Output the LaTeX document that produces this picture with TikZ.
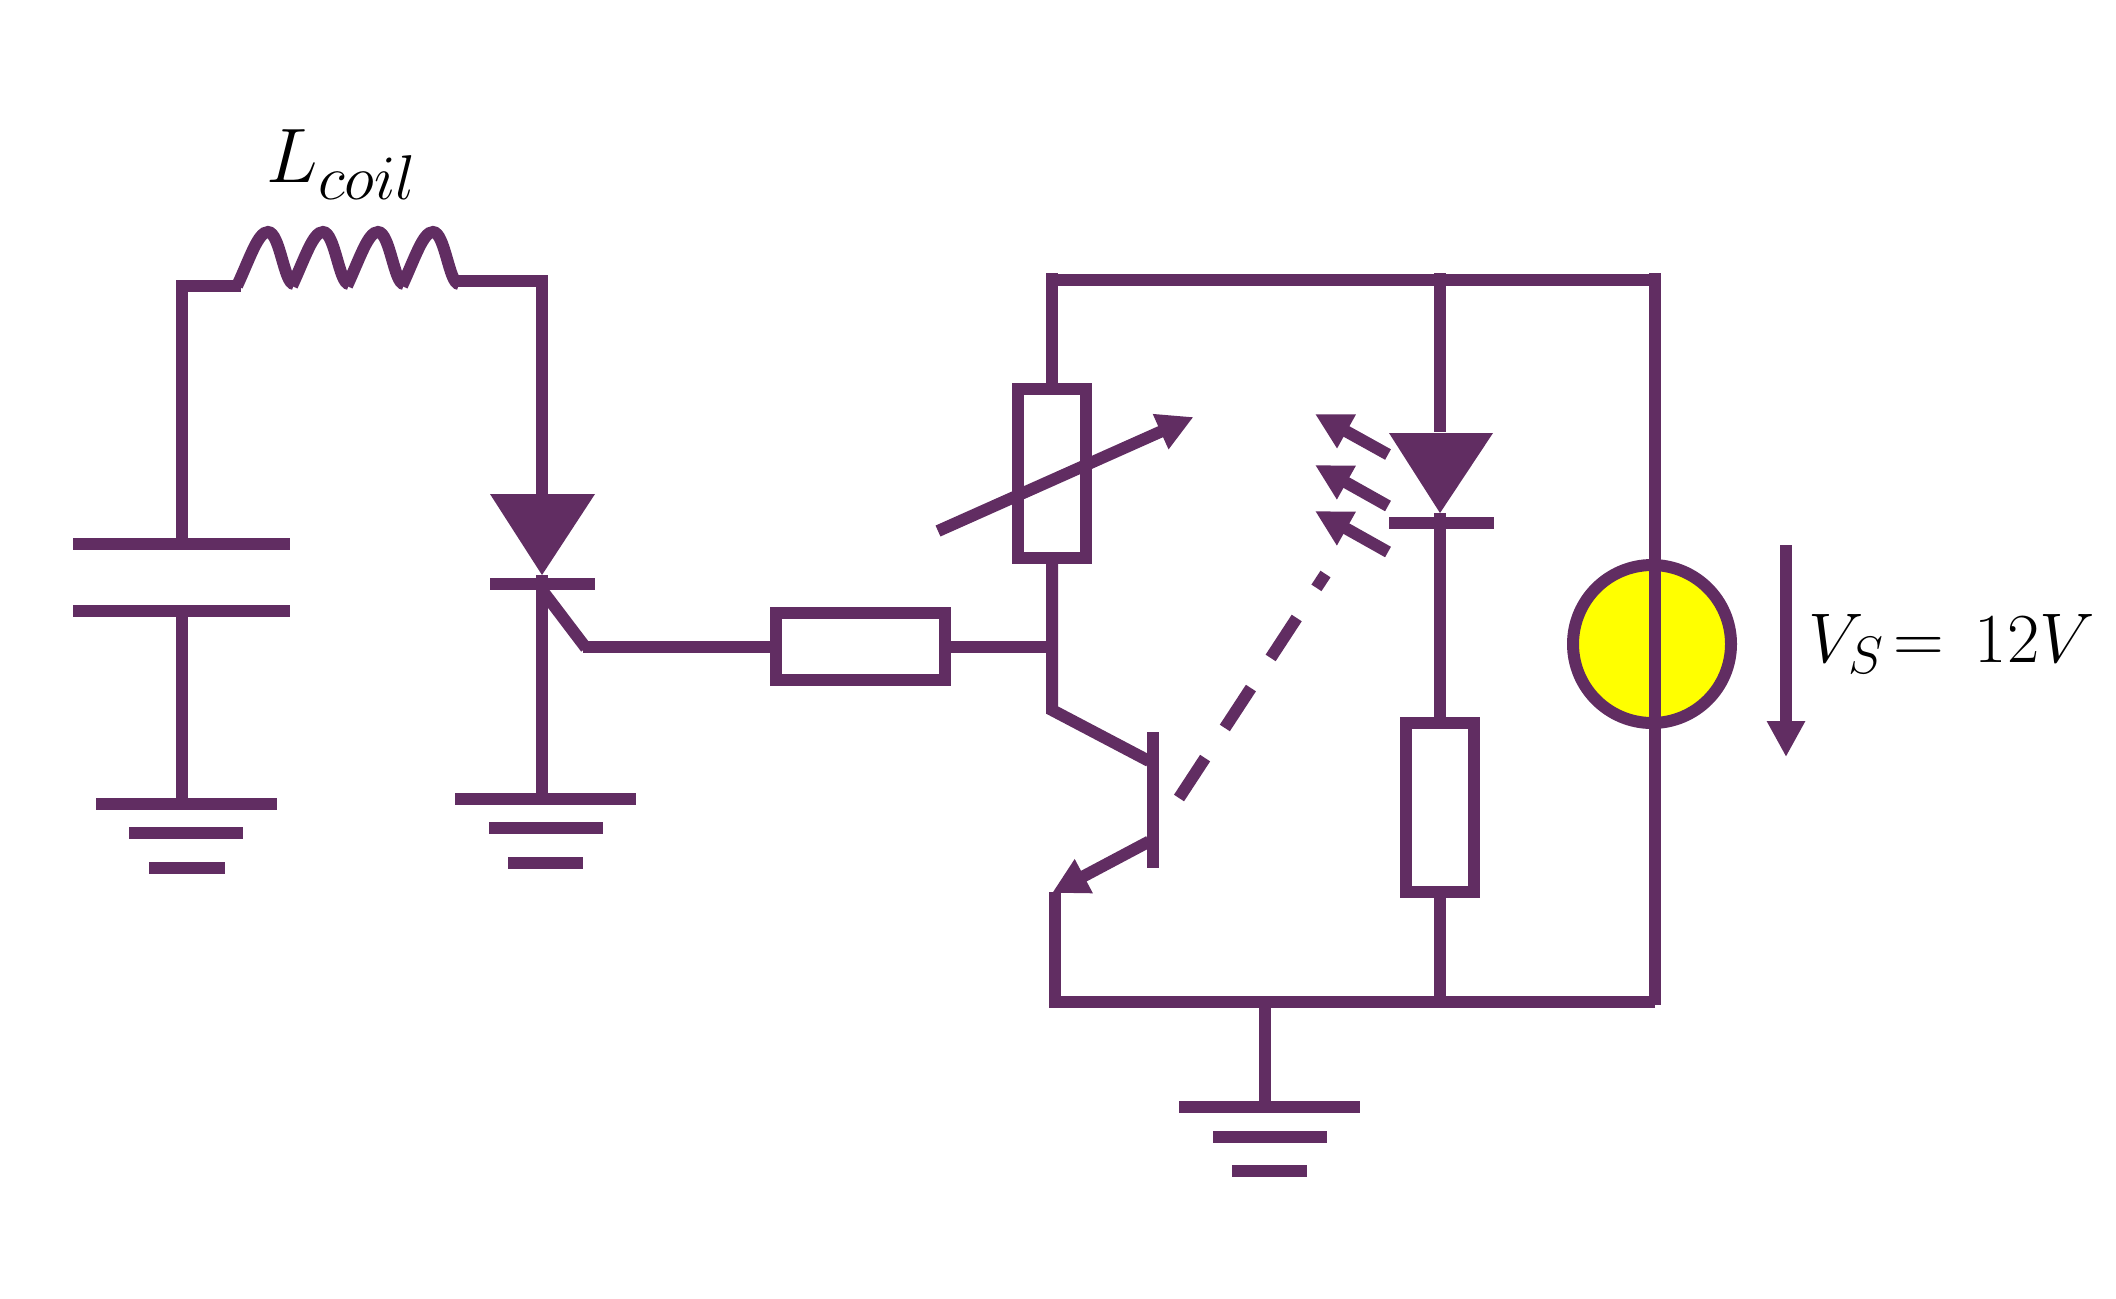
\RequirePackage{fix-cm}
\documentclass[tikz,border=0pt]{standalone}
\usepackage{amsmath}
\usetikzlibrary{arrows.meta}
\definecolor{wirecol}{HTML}{612D62}
\definecolor{lampcol}{HTML}{FFFF00}
\DeclareMathSizes{22}{22}{18}{14}
\DeclareMathSizes{20}{20}{15}{12}
\tikzset{
  wire/.style={draw=wirecol, line width=0.12cm},
  box/.style={wire, rectangle, inner sep=0pt, outer sep=0pt},
  tiparrow/.style={wire, -{Triangle[length=0.36cm, width=0.36cm]}}
}
\begin{document}
\begin{tikzpicture}
        \useasboundingbox (0,0) rectangle (21.16,-12.98);
        % named points
        \coordinate (capTop) at (1.82,-2.80);
        \coordinate (capCorner) at (1.82,-2.86);
        \coordinate (coilIn) at (2.41,-2.86);
        \coordinate (plateAl) at (0.73,-5.44);
        \coordinate (plateAr) at (2.90,-5.44);
        \coordinate (capMid) at (1.82,-5.44);
        \coordinate (plateBl) at (0.73,-6.11);
        \coordinate (plateBr) at (2.90,-6.11);
        \coordinate (capLow) at (1.82,-6.11);
        \coordinate (gndAtop) at (1.82,-8.04);
        \coordinate (gndAl) at (0.96,-8.04);
        \coordinate (gndAr) at (2.77,-8.04);
        \coordinate (gndBl) at (1.29,-8.33);
        \coordinate (gndBr) at (2.43,-8.33);
        \coordinate (gndCl) at (1.49,-8.68);
        \coordinate (gndCr) at (2.245,-8.68);
        \coordinate (coilOut) at (4.52,-2.81);
        \coordinate (scrCorner) at (5.42,-2.81);
        \coordinate (scrTop) at (5.42,-2.75);
        \coordinate (scrAnode) at (5.42,-4.94);
        \coordinate (scrL) at (4.90,-4.94);
        \coordinate (scrR) at (5.95,-4.94);
        \coordinate (scrTip) at (5.42,-5.75);
        \coordinate (scrBarL) at (4.90,-5.84);
        \coordinate (scrBarR) at (5.95,-5.84);
        \coordinate (scrGate) at (5.42,-5.90);
        \coordinate (gateElbow) at (5.86,-6.48);
        \coordinate (gateWire) at (5.83,-6.465);
        \coordinate (gndDtop) at (5.42,-7.99);
        \coordinate (gndDl) at (4.55,-7.99);
        \coordinate (gndDr) at (6.36,-7.99);
        \coordinate (gndEl) at (4.89,-8.28);
        \coordinate (gndEr) at (6.03,-8.28);
        \coordinate (gndFl) at (5.08,-8.63);
        \coordinate (gndFr) at (5.83,-8.63);
        \coordinate (railTL) at (10.52,-2.80);
        \coordinate (railTLup) at (10.52,-2.73);
        \coordinate (railTM) at (14.40,-2.73);
        \coordinate (railTR) at (16.55,-2.80);
        \coordinate (railRtop) at (16.55,-2.73);
        \coordinate (railRbot) at (16.55,-10.05);
        \coordinate (railBR) at (16.55,-10.02);
        \coordinate (railBL) at (10.55,-10.02);
        \coordinate (railBLup) at (10.55,-8.92);
        \coordinate (railBLdn) at (10.55,-10.08);
        \coordinate (railBM) at (14.40,-10.02);
        \coordinate (railBG) at (12.65,-10.02);
        \coordinate (baseJoin) at (10.52,-6.465);
        \coordinate (collKnee) at (10.52,-7.10);
        \coordinate (collEnd) at (11.49,-7.61);
        \coordinate (baseTop) at (11.53,-7.32);
        \coordinate (baseBot) at (11.53,-8.68);
        \coordinate (emitStart) at (11.49,-8.415);
        \coordinate (emitTip) at (10.52,-8.93);
        \coordinate (varTail) at (9.38,-5.31);
        \coordinate (varTip) at (11.935,-4.17);
        \coordinate (dashFrom) at (11.79,-7.98);
        \coordinate (dashTo) at (13.255,-5.74);
        \coordinate (ledTop) at (14.40,-4.32);
        \coordinate (ledL) at (13.89,-4.33);
        \coordinate (ledR) at (14.93,-4.33);
        \coordinate (ledTip) at (14.40,-5.13);
        \coordinate (ledBarL) at (13.89,-5.23);
        \coordinate (ledBarR) at (14.94,-5.23);
        \coordinate (lightAs) at (13.88,-4.545);
        \coordinate (lightAe) at (13.15,-4.14);
        \coordinate (lightBs) at (13.88,-5.06);
        \coordinate (lightBe) at (13.15,-4.65);
        \coordinate (lightCs) at (13.88,-5.52);
        \coordinate (lightCe) at (13.15,-5.11);
        \coordinate (gndGtop) at (12.65,-11.07);
        \coordinate (gndGl) at (11.79,-11.07);
        \coordinate (gndGr) at (13.60,-11.07);
        \coordinate (gndHl) at (12.13,-11.37);
        \coordinate (gndHr) at (13.27,-11.37);
        \coordinate (gndIl) at (12.32,-11.71);
        \coordinate (gndIr) at (13.07,-11.71);
        \coordinate (vsTop) at (17.86,-5.45);
        \coordinate (vsTip) at (17.86,-7.57);
        % parts with a body
        \node [box, minimum width=1.69cm, minimum height=0.67cm] (baseRes) at (8.605,-6.465) {};
        \node [box, minimum width=0.68cm, minimum height=1.69cm] (varRes) at (10.52,-4.735) {};
        \node [box, minimum width=0.68cm, minimum height=1.69cm] (ledRes) at (14.40,-8.075) {};
        \node [wire, circle, fill=lampcol, inner sep=0pt, outer sep=0pt, minimum size=1.58cm] (supply) at (16.52,-6.44) {};
        % capacitor branch
        \draw [wire] (capCorner) -- (coilIn);
        \draw [wire] (capTop) -- (capMid);
        \draw [wire] (plateAl) -- (plateAr);
        \draw [wire] (plateBl) -- (plateBr);
        \draw [wire] (capLow) -- (gndAtop);
        \draw [wire] (gndAl) -- (gndAr);
        \draw [wire] (gndBl) -- (gndBr);
        \draw [wire] (gndCl) -- (gndCr);
        % coil
        \foreach \n in {0,...,3}
                \draw [wire, xshift=\n*0.55cm] (2.37,-2.86) .. controls (2.50,-2.58) and (2.58,-2.32) .. (2.68,-2.32)
                        .. controls (2.80,-2.32) and (2.84,-2.84) .. (2.94,-2.84);
        \draw [wire] (coilOut) -- (scrCorner);
        \node [anchor=base west, inner sep=0pt] (coilLabel) at (2.66,-1.82) {\fontsize{22}{26}\selectfont $L_{coil}$};
        % thyristor
        \draw [wire] (scrTop) -- (scrAnode);
        \fill [wirecol] (scrL) -- (scrR) -- (scrTip) -- cycle;
        \draw [wire] (scrBarL) -- (scrBarR);
        \draw [wire] (scrTip) -- (gndDtop);
        \draw [wire] (scrGate) -- (gateElbow);
        \draw [wire] (gateWire) -- (baseRes.west);
        \draw [wire] (gndDl) -- (gndDr);
        \draw [wire] (gndEl) -- (gndEr);
        \draw [wire] (gndFl) -- (gndFr);
        % outer loop
        \draw [wire] (railTLup) -- (varRes.north);
        \draw [wire] (railTL) -- (railTR);
        \draw [wire] (railTM) -- (ledTop);
        \draw [wire] (railRtop) -- (railRbot);
        \draw [wire] (railBR) -- (railBL);
        \draw [wire] (railBLup) -- (railBLdn);
        \draw [wire] (railBG) -- (gndGtop);
        \draw [wire] (gndGl) -- (gndGr);
        \draw [wire] (gndHl) -- (gndHr);
        \draw [wire] (gndIl) -- (gndIr);
        % phototransistor
        \draw [wire] (baseRes.east) -- (baseJoin);
        \draw [wire] (varRes.south) -- (collKnee) -- (collEnd);
        \draw [wire] (baseTop) -- (baseBot);
        \draw [tiparrow] (emitStart) -- (emitTip);
        \draw [tiparrow] (varTail) -- (varTip);
        \draw [wire, dash pattern=on 0.477cm off 0.36cm] (dashFrom) -- (dashTo);
        % LED
        \fill [wirecol] (ledL) -- (ledR) -- (ledTip) -- cycle;
        \draw [wire] (ledBarL) -- (ledBarR);
        \draw [wire] (ledTip) -- (ledRes.north);
        \draw [wire] (ledRes.south) -- (railBM);
        \draw [tiparrow] (lightAs) -- (lightAe);
        \draw [tiparrow] (lightBs) -- (lightBe);
        \draw [tiparrow] (lightCs) -- (lightCe);
        % supply voltage
        \draw [tiparrow] (vsTop) -- (vsTip);
        \node [anchor=base west, inner sep=0pt] (vsLabel) at (18.08,-6.62) {\fontsize{20}{24}\selectfont $V_S\!=\,12V$};
        \end{tikzpicture}
\end{document}
